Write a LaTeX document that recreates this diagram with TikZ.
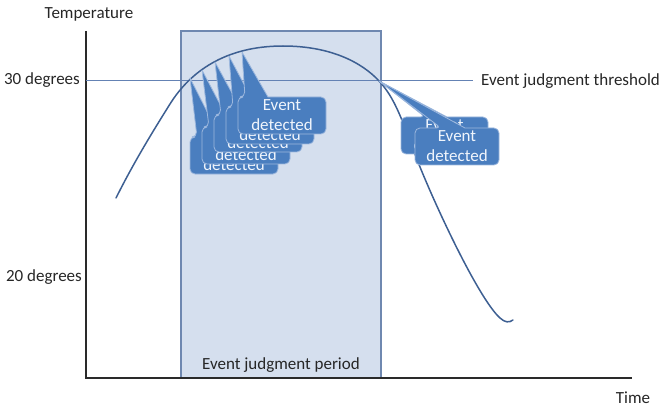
\documentclass[tikz,border=0pt]{standalone}
\usepackage{fontspec}
\setmainfont{Carlito}
\definecolor{periodfill}{HTML}{D5DFEE}
\definecolor{periodline}{HTML}{6F88B0}
\definecolor{curvecol}{HTML}{3D5F92}
\definecolor{threshcol}{HTML}{6482B4}
\definecolor{callfill}{HTML}{4A7EBF}
\definecolor{calledge}{HTML}{9DB8DE}
\definecolor{calltextcol}{HTML}{F0F5FC}
\definecolor{axiscol}{HTML}{2A2A2A}
\tikzset{
  lbl/.style={font=\fontsize{17}{20}\selectfont, text=black!85, inner sep=0pt},
  axisline/.style={draw=axiscol, line width=1.4pt},
  callshape/.style={fill=callfill, draw=calledge, line width=0.8pt, line join=round},
  calltext/.style={font=\fontsize{17}{20}\selectfont, text=calltextcol, align=center, inner sep=0pt},
}
% callout box with a wedge pointing to a tip coordinate
% #1 node name, #2 left x, #3 top y, #4 tip, #5/#6 wedge base offsets, #7 width
\newcommand{\evbox}[7]{%
  \draw[callshape, rounded corners=5pt]
    (#2,#3+37) -- (#2,#3) -- (#2+#5,#3) [sharp corners] -- (#4)
    -- (#2+#6,#3) [rounded corners=5pt] -- (#2+#7,#3) -- (#2+#7,#3+37) -- cycle;
  \node[calltext] (#1) at (#2+#7/2,#3+18.5) {Event\\detected};}
\begin{document}
\begin{tikzpicture}[x=1pt,y=-1pt]
\useasboundingbox (0,0) rectangle (664,409);

% judgment period band
\draw[fill=periodfill, draw=periodline, line width=1.2pt] (181,31) rectangle (381,378);
\node[lbl] (period) at (281,365) {Event judgment period};

% axes
\coordinate (origin) at (86,378);
\coordinate (ytop) at (86,31);
\coordinate (xend) at (632,378);
\draw[axisline] (ytop) -- (origin) -- (xend);
\node[lbl] (ylab) at (89,14) {Temperature};
\node[lbl] (xlab) at (633,398) {Time};
\node[lbl, anchor=east] (t30) at (80,80) {30 degrees};
\node[lbl, anchor=east] (t20) at (82,277) {20 degrees};

% threshold
\coordinate (thend) at (473,80);
\draw[threshcol, line width=0.9pt] (86,80) -- (thend);
\node[lbl, anchor=west] (thlab) at (481,81) {Event judgment threshold};

% temperature curve
\draw[curvecol, line width=1.5pt, line cap=round]
  (116,198) .. controls (135,160) and (155,128) .. (170,104)
  .. controls (190,72) and (225,46) .. (283,46)
  .. controls (330,46) and (362,62) .. (380,82)
  .. controls (398,102) and (405,130) .. (420,167)
  .. controls (440,216) and (480,300) .. (500,318)
  .. controls (505,322.5) and (509,323) .. (513,320);

% detection points on the curve
\coordinate (p1) at (190,78);
\coordinate (p2) at (202,70);
\coordinate (p3) at (215,62);
\coordinate (p4) at (229,56);
\coordinate (p5) at (242,52);
\coordinate (q) at (379,81);

% detections while rising
\evbox{d1}{190}{137}{p1}{7}{30}{88}
\evbox{d2}{202}{127}{p2}{7}{30}{88}
\evbox{d3}{214}{115}{p3}{7}{30}{88}
\evbox{d4}{226}{107}{p4}{7}{30}{88}
\evbox{d5}{238}{97}{p5}{7}{30}{88}

% detections while falling
\evbox{d6}{401}{117}{q}{24}{46}{87}
\evbox{d7}{415}{128}{q}{26}{50}{84}
\end{tikzpicture}
\end{document}
